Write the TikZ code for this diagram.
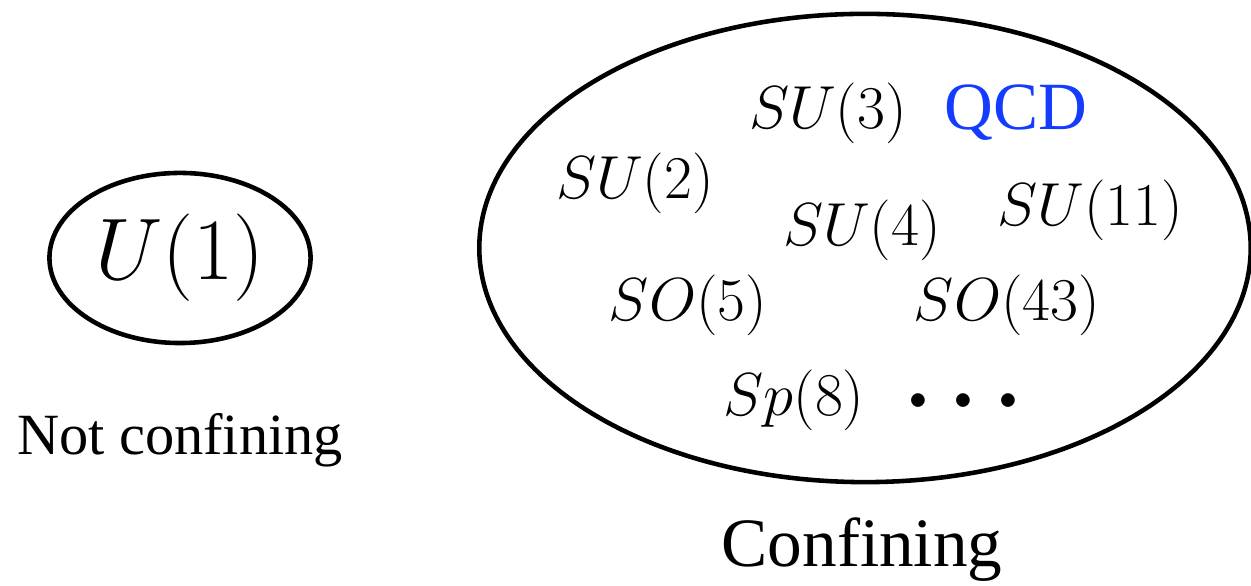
\documentclass[tikz,border=0pt]{standalone}
\usepackage{amsmath}
\usepackage{fontspec}
\setmainfont{Liberation Serif}
\usepackage{xcolor}
\usetikzlibrary{shapes}

\definecolor{qcdblue}{RGB}{20,60,255}

\begin{document}
\begin{tikzpicture}[x=0.01cm,y=-0.01cm]
\tikzset{
	group/.style = {ellipse, draw, line width = 1.3pt, inner sep = 0},
	gname/.style = {font = \fontsize{17.7}{21}\selectfont},
	caption/.style = {font = \fontsize{16.6}{20}\selectfont},
}
\useasboundingbox (0,0) rectangle (1251,586);

% the two groups
\node(abel)[group, minimum width = 2.61cm, minimum height = 1.70cm] at (180,258) {};
\node(conf)[group, minimum width = 7.71cm, minimum height = 4.68cm] at (865,248) {};

\node(u1)[font = \fontsize{23}{27}\selectfont] at (180,258) {$U(1)$};

\node(su3)[font = \fontsize{18.6}{22}\selectfont] at (828,113) {$SU(3)$};
\node(qcd)[text = qcdblue, font = \fontsize{19.2}{23}\selectfont] at (1016,113) {QCD};
\node(su2)[gname] at (635,183) {$SU(2)$};
\node(su4)[gname] at (862,230) {$SU(4)$};
\node(su11)[gname] at (1090,210) {$SU(11)$};
\node(so5)[gname] at (688,305) {$SO(5)$};
\node(so43)[gname] at (1007,305) {$SO(43)$};
\node(sp8)[gname] at (794,400) {$Sp(8)$};
\node(dots)[font = \fontsize{23}{27}\selectfont\boldmath] at (972,402) {$\cdots$};

% labels underneath
\node(nc)[caption] at (180,440) {Not confining};
\node(c)[font = \fontsize{19.7}{24}\selectfont] at (862,550) {Confining};

\end{tikzpicture}
\end{document}
